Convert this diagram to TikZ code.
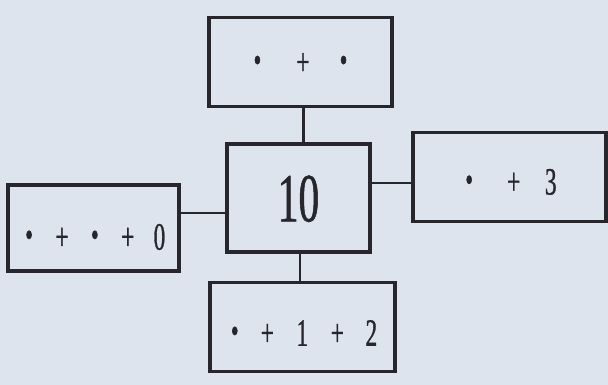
\documentclass[tikz,border=0pt]{standalone}
\usepackage{fontspec}
\newfontfamily\numfont{Liberation Serif}[FakeStretch=0.6, FakeBold=0.8]
\usetikzlibrary{positioning}

\definecolor{paper}{RGB}{222,228,238}
\definecolor{ink}{RGB}{38,38,44}

% a blank to fill in
\newcommand{\dotmark}{{\fontsize{60}{60}\selectfont\raisebox{-0.12em}{·}}}

\begin{document}
\begin{tikzpicture}[
  node distance=10mm,
  sumbox/.style={draw=ink, line width=3pt, text=ink, inner sep=2pt,
                 font=\numfont\fontsize{33}{36}\selectfont,
                 text height=22pt, text depth=0pt, minimum height=26.7mm},
  bigbox/.style={sumbox, font=\numfont\fontsize{59}{62}\selectfont, text height=40pt,
                 minimum width=42.9mm, minimum height=32.4mm},
  link/.style={draw=ink, line width=2.4pt},
]

% ---- paper and picture size ------------------------------------------------
\path[use as bounding box, fill=paper] (-89.55mm,59.4mm) rectangle (92.85mm,-56.1mm);

% ---- the number and its four ways of making it ------------------------------
\node[bigbox] (ten) at (0,0) {10};
\node[sumbox, minimum width=54.9mm, above=10.2mm of ten, xshift=0.6mm] (up)
  {\dotmark\hspace{9.6mm}+\hspace{8.1mm}\dotmark};
\node[sumbox, minimum width=55.5mm, below=8.1mm of ten, xshift=1.2mm, text height=32pt] (down)
  {\dotmark\hspace{5.7mm}+\hspace{6.8mm}1\hspace{6.8mm}+\hspace{6.5mm}2\hspace{3mm}};
\node[sumbox, minimum width=51.3mm, minimum height=25.8mm, left=13.3mm of ten, yshift=-9mm,
      text height=37pt] (lft)
  {\dotmark\hspace{5.8mm}+\hspace{5.8mm}\dotmark\hspace{5.8mm}+\hspace{5.8mm}0\hspace{2mm}};
\node[sumbox, minimum width=57.9mm, right=11.8mm of ten, yshift=6.3mm, text height=30pt] (rgt)
  {\dotmark\hspace{9.3mm}+\hspace{7.4mm}3\hspace{6mm}};

% ---- connectors --------------------------------------------------------------
\draw[link] ([xshift=1mm]up.south) -- ([xshift=1mm]up.south |- ten.north);
\draw[link] ([xshift=-0.75mm]down.north) -- ([xshift=-0.75mm]down.north |- ten.south);
\draw[link] ([yshift=4.5mm]lft.east) -- ([yshift=4.5mm]lft.east -| ten.west);
\draw[link] ([yshift=-1.8mm]rgt.west) -- ([yshift=-1.8mm]rgt.west -| ten.east);

\end{tikzpicture}
\end{document}
